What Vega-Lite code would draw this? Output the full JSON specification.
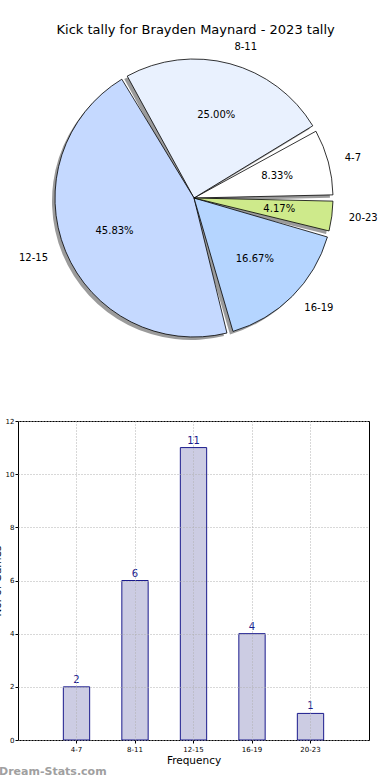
{
  "$schema": "https://vega.github.io/schema/vega-lite/v6.json",
  "padding": {"left": -9, "top": 24, "right": 0, "bottom": 0},
  "background": "white",
  "config": {"font": "DejaVu Sans", "view": {"stroke": null}},
  "title": {"text": "Kick tally for Brayden Maynard - 2023 tally", "fontSize": 13, "font": "DejaVu Sans", "fontWeight": "normal", "color": "black", "anchor": "middle", "offset": 2, "dx": 11},
  "data": {"values": [
    {"range": "4-7", "count": 2, "pct": "8.33%", "idx": 1},
    {"range": "8-11", "count": 6, "pct": "25.00%", "idx": 2},
    {"range": "12-15", "count": 11, "pct": "45.83%", "idx": 3},
    {"range": "16-19", "count": 4, "pct": "16.67%", "idx": 4},
    {"range": "20-23", "count": 1, "pct": "4.17%", "idx": 5}
  ]},
  "spacing": 59,
  "vconcat": [
    {
      "width": 352,
      "height": 318,
      "view": {"stroke": null},
      "encoding": {
        "theta": {"field": "count", "type": "quantitative", "stack": true, "scale": {"range": [1.5708, -4.7124]}},
        "order": {"field": "idx", "type": "quantitative"}
      },
      "layer": [
        {"mark": {"type": "arc", "radius": 139, "padAngle": 0.045, "fill": "#7a7a7a", "fillOpacity": 0.75, "xOffset": -3, "yOffset": 3}},
        {"mark": {"type": "arc", "radius": 139, "padAngle": 0.045, "stroke": "black", "strokeWidth": 0.8},
          "encoding": {"color": {"field": "range", "type": "nominal", "legend": null,
            "scale": {"domain": ["4-7", "8-11", "12-15", "16-19", "20-23"], "range": ["#ffffff", "#e9f1fe", "#c5d9ff", "#b5d5ff", "#ceea8b"]}}}},
        {"mark": {"type": "text", "radius": 86, "fontSize": 10, "color": "black"},
          "encoding": {"text": {"field": "pct"}}},
        {"mark": {"type": "text", "radius": 156, "fontSize": 10, "color": "black", "align": "left", "baseline": "middle"},
          "encoding": {"text": {"condition": {"test": "datum.range === '12-15'", "value": ""}, "field": "range"}}},
        {"mark": {"type": "text", "radius": 158, "fontSize": 10, "color": "black", "align": "right", "baseline": "middle"},
          "encoding": {"text": {"condition": {"test": "datum.range !== '12-15'", "value": ""}, "field": "range"}}}
      ]
    },
    {
      "width": 351,
      "height": 319,
      "view": {"stroke": "black", "strokeWidth": 1},
      "title": {"text": "Dream-Stats.com", "orient": "bottom", "anchor": "start", "frame": "group", "dx": -19, "offset": 0, "fontSize": 11, "fontWeight": "bold", "color": "#a0a0a0"},
      "encoding": {
        "x": {"field": "range", "type": "nominal", "sort": ["4-7", "8-11", "12-15", "16-19", "20-23"], "title": "Frequency",
          "scale": {"paddingInner": 0, "paddingOuter": 0.5},
          "axis": {"labelAngle": 0, "labelFontSize": 7, "labelColor": "black", "tickSize": 3, "tickColor": "black", "domain": false,
            "grid": true, "gridDash": [1, 2], "gridColor": "#b0b0b0", "gridWidth": 1, "zindex": 1,
            "titleFontSize": 10.5, "titleFontWeight": "normal", "titleColor": "black", "titlePadding": 3, "labelPadding": 2}},
        "y": {"field": "count", "type": "quantitative", "scale": {"domain": [0, 12]}, "title": "No. of Games",
          "axis": {"values": [0, 2, 4, 6, 8, 10, 12], "labelFontSize": 7, "labelColor": "black", "tickSize": 3, "tickColor": "black", "domain": false,
            "grid": true, "gridDash": [1, 2], "gridColor": "#b0b0b0", "gridWidth": 1, "zindex": 1, "labelPadding": 1,
            "titleFontSize": 10.5, "titleFontWeight": "normal", "titleColor": "black", "titlePadding": 3}}
      },
      "layer": [
        {"mark": {"type": "bar", "width": {"band": 0.45}, "fill": "#ccccE3", "stroke": "#1a1a8c", "strokeWidth": 1}},
        {"mark": {"type": "text", "baseline": "bottom", "dy": -2, "fontSize": 10, "color": "#1a1a8c"},
          "encoding": {"text": {"field": "count", "type": "quantitative"}}}
      ]
    }
  ]
}
